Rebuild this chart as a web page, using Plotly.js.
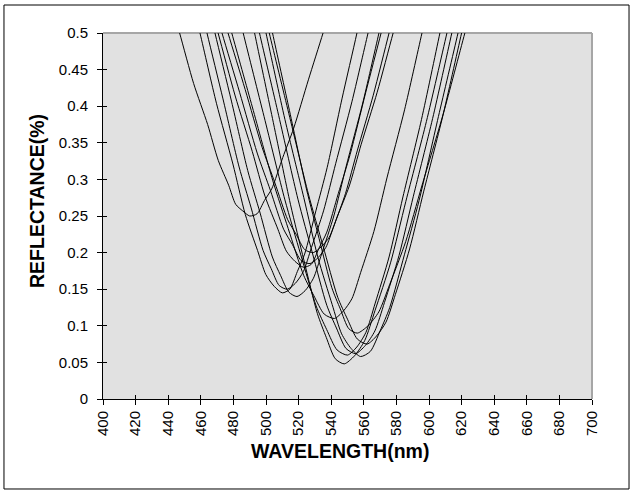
<!DOCTYPE html>
<html><head><meta charset="utf-8">
<script src="https://cdn.plot.ly/plotly-3.0.1.min.js"></script>
<style>html,body{margin:0;padding:0;background:#fff}#chart{width:633px;height:493px}</style>
</head><body><div id="chart"></div>
<script>
// x tick values / labels
var xTickVals = [400,420,440,460,480,500,520,540,560,580,600,620,640,660,680,700];
var xTickText = ["400","420","440","460","480","500","520","540","560","580","600","620","640","660","680","700"];
var yTickVals = [0,0.05,0.1,0.15,0.2,0.25,0.3,0.35,0.4,0.45,0.5];
var yTickText = ["0","0.05","0.1","0.15","0.2","0.25","0.3","0.35","0.4","0.45","0.5"];
var xTitle = "WAVELENGTH(nm)";
var yTitle = "REFLECTANCE(%)";

// reflectance spectra (wavelength nm, reflectance)
var wl1 = [440.6,447,455.6,464.2,470.7,477.1,481.4,485.7,490,494.5,499,503.5,510.3,517,526,535,541.8];
var r1  = [0.550,0.5,0.431,0.375,0.326,0.292,0.266,0.257,0.250,0.253,0.271,0.287,0.330,0.370,0.436,0.5,0.550];
var wl2 = [451.9,459.5,469.6,479.7,487.3,494.8,499.9,505,510,514.6,519.2,523.7,530.6,537.5,546.6,555.8,562.7];
var r2  = [0.571,0.5,0.404,0.321,0.252,0.203,0.170,0.154,0.145,0.150,0.174,0.198,0.257,0.316,0.410,0.5,0.571];
var wl3 = [456.4,463.8,473.6,483.5,490.9,498.2,503.2,508.1,513,518,522.9,527.9,535.3,542.8,552.7,562.6,570];
var r3  = [0.570,0.5,0.410,0.317,0.261,0.203,0.178,0.155,0.150,0.158,0.174,0.207,0.257,0.322,0.406,0.5,0.570];
var wl4 = [461.2,468.7,478.8,488.8,496.4,503.9,508.9,514,519,524,529.1,534.1,541.6,549.2,559.2,569.3,576.8];
var r4  = [0.572,0.5,0.407,0.312,0.254,0.194,0.169,0.146,0.140,0.148,0.165,0.198,0.250,0.318,0.403,0.5,0.572];
var wl5 = [462.7,470.6,481.1,491.6,499.4,507.3,512.5,517.8,523,527.8,532.5,537.3,544.4,551.6,561.1,570.6,577.7];
var r5  = [0.564,0.5,0.414,0.338,0.277,0.232,0.202,0.188,0.180,0.184,0.206,0.228,0.281,0.334,0.418,0.5,0.564];
var wl6 = [464.9,473,483.8,494.6,502.7,510.8,516.2,521.6,527,531.9,536.7,541.6,548.8,556.1,565.8,575.5,582.8];
var r6  = [0.563,0.5,0.419,0.336,0.285,0.232,0.211,0.189,0.185,0.193,0.207,0.236,0.281,0.340,0.415,0.5,0.563];
var wl7 = [468.9,476.7,487.2,497.6,505.5,513.3,518.5,523.8,529,533.9,538.8,543.7,551.1,558.4,568.2,578,585.4];
var r7  = [0.560,0.5,0.423,0.344,0.295,0.245,0.225,0.204,0.200,0.208,0.221,0.249,0.291,0.348,0.419,0.5,0.560];
var wl8 = [469.5,479,491.6,504.2,513.6,523.1,529.4,535.7,542,547.4,552.7,558.1,566.2,574.2,585,595.7,603.8];
var r8  = [0.578,0.5,0.399,0.298,0.233,0.169,0.141,0.116,0.110,0.120,0.137,0.173,0.229,0.302,0.395,0.5,0.578];
var wl9 = [476.4,486,498.8,511.6,521.2,530.8,537.2,543.6,550,555.7,561.3,567,575.5,584,595.4,606.7,615.2];
var r9  = [0.588,0.5,0.386,0.272,0.198,0.127,0.095,0.067,0.060,0.071,0.091,0.131,0.194,0.276,0.382,0.5,0.588];
var wl10 = [484.7,493,504,515,523.2,531.5,537,542.5,548,554.3,560.6,566.9,576.4,585.8,598.4,611,620.5];
var r10  = [0.591,0.5,0.383,0.266,0.190,0.117,0.084,0.055,0.048,0.059,0.080,0.121,0.186,0.270,0.379,0.5,0.591];
var wl11 = [487.1,496,507.8,519.6,528.4,537.3,543.2,549.1,555,560.9,566.8,572.7,581.6,590.4,602.2,614,622.9];
var r11  = [0.588,0.5,0.387,0.273,0.200,0.128,0.097,0.069,0.062,0.073,0.093,0.132,0.196,0.277,0.383,0.5,0.588];
var wl12 = [491.3,500,511.6,523.2,531.9,540.6,546.4,552.2,558,564,570,575.9,584.9,593.9,605.8,617.8,626.8];
var r12  = [0.589,0.5,0.382,0.275,0.193,0.129,0.089,0.069,0.058,0.065,0.093,0.125,0.197,0.271,0.386,0.5,0.589];
var wl13 = [493,502,514,526,535,544,550,556,562,567.8,573.6,579.4,588.1,596.8,608.4,620,628.7];
var r13  = [0.585,0.5,0.390,0.280,0.209,0.139,0.109,0.082,0.075,0.086,0.105,0.143,0.205,0.284,0.386,0.5,0.585];
var wl14 = [496.2,504,514.4,524.8,532.6,540.4,545.6,550.8,556,562.6,569.2,575.8,585.7,595.6,608.8,622,631.9];
var r14  = [0.582,0.5,0.394,0.287,0.219,0.152,0.123,0.096,0.090,0.100,0.119,0.156,0.215,0.291,0.390,0.5,0.582];

var wls = [wl1,wl2,wl3,wl4,wl5,wl6,wl7,wl8,wl9,wl10,wl11,wl12,wl13,wl14];
var rs  = [r1,r2,r3,r4,r5,r6,r7,r8,r9,r10,r11,r12,r13,r14];

var FONT = "Liberation Sans, Arial, sans-serif";
var traces = [];
for (var i = 0; i < wls.length; i++) {
  traces.push({x: wls[i], y: rs[i], type: 'scatter', mode: 'lines',
    line: {color: '#000', width: 1, shape: 'spline', smoothing: 0.7}, hoverinfo: 'skip', showlegend: false});
}
// dummy trace for inner-tick overlay axes
traces.push({x: [null], y: [null], xaxis: 'x2', yaxis: 'y2', type: 'scatter', mode: 'lines', showlegend: false, hoverinfo: 'skip'});

var layout = {
  width: 633, height: 493,
  margin: {l: 103, r: 41, t: 33, b: 94},
  paper_bgcolor: '#fff', plot_bgcolor: '#e1e1e1',
  showlegend: false,
  font: {family: FONT, color: '#000', size: 15},
  xaxis: {range: [400, 700], tickvals: xTickVals, ticktext: xTickText, tickangle: -90,
    ticks: 'outside', ticklen: 5, tickwidth: 1, tickcolor: '#000', ticklabelstandoff: 0,
    showline: true, linecolor: '#000', linewidth: 1, showgrid: false, zeroline: false,
    tickfont: {family: FONT, size: 15, color: '#000'},
    fixedrange: true},
  yaxis: {range: [0, 0.5], tickvals: yTickVals, ticktext: yTickText,
    ticks: 'outside', ticklen: 5, tickwidth: 1, tickcolor: '#000', ticklabelstandoff: 6,
    showline: true, linecolor: '#000', linewidth: 1, showgrid: false, zeroline: false,
    tickfont: {family: FONT, size: 15, color: '#000'},
    fixedrange: true},
  xaxis2: {range: [400, 700], overlaying: 'x', tickvals: xTickVals, ticks: 'inside', ticklen: 4,
    tickcolor: '#000', showticklabels: false, showline: false, showgrid: false, zeroline: false, fixedrange: true},
  yaxis2: {range: [0, 0.5], overlaying: 'y', tickvals: yTickVals, ticks: 'inside', ticklen: 4,
    tickcolor: '#000', showticklabels: false, showline: false, showgrid: false, zeroline: false, fixedrange: true},
  annotations: [
    {text: '<b>' + xTitle + '</b>', xref: 'paper', yref: 'paper', x: 0.485, y: -0.142,
      xanchor: 'center', yanchor: 'middle', showarrow: false, font: {family: FONT, size: 19.5, color: '#000'}},
    {text: '<b>' + yTitle + '</b>', xref: 'paper', yref: 'paper', x: -0.135, y: 0.541, textangle: -90,
      xanchor: 'center', yanchor: 'middle', showarrow: false, font: {family: FONT, size: 19.5, color: '#000'}}
  ],
  shapes: [
    {type: 'line', xref: 'paper', yref: 'paper', x0: 0, x1: 1, y0: 1, y1: 1, line: {color: '#a6a6a6', width: 2}, layer: 'below'},
    {type: 'line', xref: 'paper', yref: 'paper', x0: 1, x1: 1, y0: 0, y1: 1, line: {color: '#a6a6a6', width: 2}, layer: 'below'},
    {type: 'rect', xref: 'paper', yref: 'paper', x0: -0.2025, x1: 1.0757, y0: -0.2459, y1: 1.0765, line: {color: '#000', width: 1}, fillcolor: 'rgba(0,0,0,0)'}
  ]
};
Plotly.newPlot('chart', traces, layout, {staticPlot: true, displayModeBar: false});
</script>
</body></html>
